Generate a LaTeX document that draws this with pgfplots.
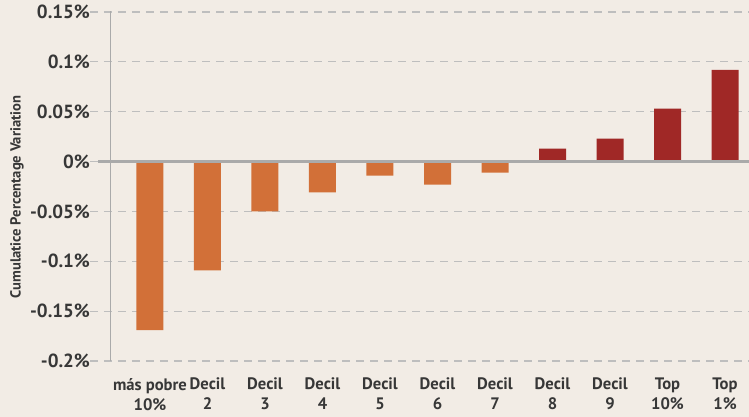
\documentclass[border=0pt]{standalone}
\usepackage{fontspec}
\setmainfont{PT Sans}
\usepackage{pgfplots}
\pgfplotsset{compat=1.18}

\definecolor{bg}{RGB}{242,236,229}
\definecolor{barorange}{RGB}{210,112,56}
\definecolor{barred}{RGB}{160,40,38}
\definecolor{gridgray}{RGB}{190,190,190}
\definecolor{axisgray}{RGB}{170,170,170}
\definecolor{txt}{RGB}{55,55,55}

\begin{document}
\begin{tikzpicture}
    % background, same size as the page
    \fill[bg] (-45pt,-28pt) rectangle (329.5pt,180.5pt);
    \begin{axis}[
        at = {(0,0)}, anchor = south west,
        scale only axis,
        width  = 329.5pt,
        height = 174.5pt,
        xmin = -1.043, xmax = 10.417,
        ymin = -0.2,   ymax = 0.15,
        ybar, bar width = 13.5pt, bar shift = 0pt,
        % Ticks
        xtick = {0,...,10},
        xticklabels = {
            {más pobre\\10\%}, {Decil\\2}, {Decil\\3}, {Decil\\4}, {Decil\\5},
            {Decil\\6}, {Decil\\7}, {Decil\\8}, {Decil\\9}, {Top\\10\%}, {Top\\1\%}
        },
        ytick = {-0.2,-0.15,-0.1,-0.05,0,0.05,0.1,0.15},
        yticklabels = {-0.2\%,-0.15\%,-0.1\%,-0.05\%,0\%,0.05\%,0.1\%,0.15\%},
        major tick length = 0pt,
        yticklabel style = {font=\fontsize{9.5}{10}\selectfont\bfseries, text=txt, xshift=3.5pt},
        xticklabel style = {font=\fontsize{8.3}{10}\selectfont\bfseries, text=txt,
                            align=center, yshift=-5pt},
        % Labels
        ylabel = {Cumulatice Percentage Variation},
        ylabel style = {font=\fontsize{7.3}{8}\selectfont\bfseries, text=txt,
                        at={(axis description cs:-0.111,0.47)}, anchor=center},
        % Grid
        axis line style = {draw=none},
        ymajorgrids = true,
        grid style  = {gridgray, line width=0.6pt, dash pattern=on 4pt off 3pt},
    ]
        % lower deciles
        \addplot[fill=barorange, draw=none] coordinates {
            (0,-0.169) (1,-0.109) (2,-0.050) (3,-0.031)
            (4,-0.014) (5,-0.023) (6,-0.011)
        };
        % upper deciles
        \addplot[fill=barred, draw=none] coordinates {
            (7,0.013) (8,0.023) (9,0.053) (10,0.092)
        };
        % axis lines
        \draw[axisgray, line width=0.6pt] (axis cs:-0.68,-0.205) -- (axis cs:-0.68,0.152);
        \draw[axisgray, line width=1.5pt] (axis cs:-0.9,0) -- (axis cs:10.417,0);
    \end{axis}
    \pgfresetboundingbox
    \path[use as bounding box] (-45pt,-28pt) rectangle (329.5pt,180.5pt);
\end{tikzpicture}
\end{document}
